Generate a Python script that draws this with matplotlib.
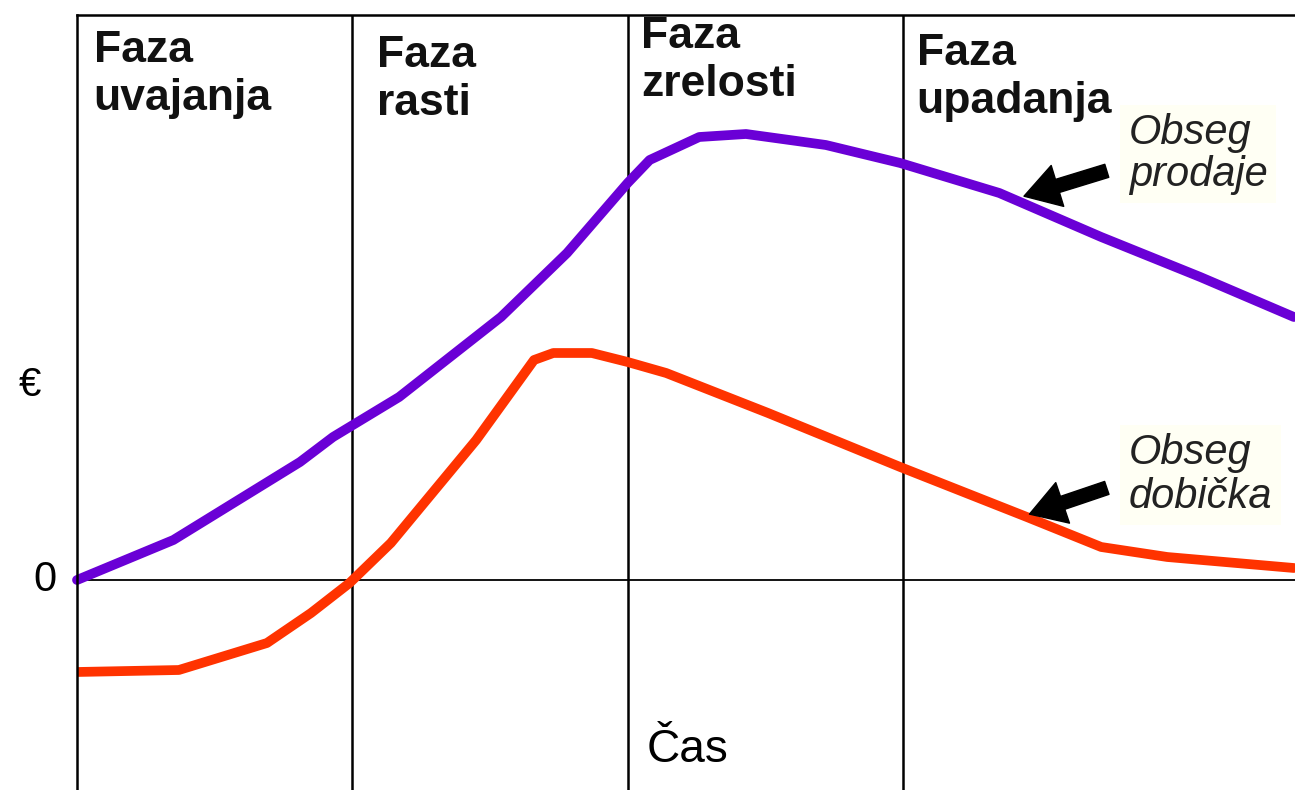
import matplotlib
matplotlib.use('Agg')
import matplotlib.pyplot as plt

# phase boundaries (time units) and labels
phase_bounds = [1, 2, 3]
phase_labels = ['Faza\nuvajanja', 'Faza\nrasti', 'Faza\nzrelosti', 'Faza\nupadanja']
phase_label_x = [0.06, 1.09, 2.05, 3.05]
phase_label_y = [5.50, 5.45, 5.64, 5.47]

# sales volume (purple)
sales_x = [0, 0.35, 0.81, 0.93, 1.17, 1.54, 1.78, 2.0, 2.08, 2.26, 2.43, 2.72,
           2.99, 3.35, 3.72, 4.08, 4.42]
sales_y = [0, 0.40, 1.18, 1.43, 1.83, 2.63, 3.27, 3.97, 4.20, 4.43, 4.46, 4.35,
           4.17, 3.87, 3.43, 3.03, 2.63]

# profit volume (red)
profit_x = [0, 0.37, 0.69, 0.85, 0.99, 1.14, 1.45, 1.66, 1.73, 1.87, 2.0, 2.14,
            2.51, 2.99, 3.45, 3.72, 3.96, 4.42]
profit_y = [-0.92, -0.90, -0.63, -0.33, -0.03, 0.37, 1.40, 2.20, 2.27, 2.27, 2.18,
            2.07, 1.67, 1.13, 0.63, 0.33, 0.23, 0.12]

fig = plt.figure(figsize=(12.95, 7.90), dpi=100)
ax = fig.add_axes([77 / 1295, 0, 1 - 77 / 1295, 1 - 15 / 790])
ax.set_xlim(0, 4.424)
ax.set_ylim(-2.1, 5.65)

for s in ['right', 'bottom']:
    ax.spines[s].set_visible(False)
for s in ['left', 'top']:
    ax.spines[s].set_linewidth(1.8)
ax.set_xticks([])
ax.set_yticks([])

for b in phase_bounds:
    ax.axvline(b, color='black', lw=1.8)
ax.axhline(0, color='black', lw=1.3)

ax.plot(sales_x, sales_y, color='#6a00d6', lw=7, solid_joinstyle='round',
        solid_capstyle='round', clip_on=False)
ax.plot(profit_x, profit_y, color='#ff3300', lw=7, solid_joinstyle='round',
        solid_capstyle='round')

for lab, x, y in zip(phase_labels, phase_label_x, phase_label_y):
    ax.text(x, y, lab, fontsize=32, fontweight='bold', family='Liberation Sans',
            va='top', ha='left', linespacing=1.22, color='#111111')

# annotations
ax.text(3.82, 4.67, 'Obseg\nprodaje', fontsize=30, style='italic',
        family='Liberation Sans', va='top', ha='left', linespacing=1.05,
        color='#222222',
        bbox=dict(facecolor='#fffff4', edgecolor='none', pad=6))
ax.text(3.82, 1.47, 'Obseg\ndobička', fontsize=30, style='italic',
        family='Liberation Sans', va='top', ha='left', linespacing=1.12,
        color='#222222',
        bbox=dict(facecolor='#fffff4', edgecolor='none', pad=6))

arrow = dict(arrowstyle='simple,head_length=0.9,head_width=1.1,tail_width=0.35',
             color='black', mutation_scale=28)
ax.annotate('', xy=(3.43, 3.83), xytext=(3.75, 4.10), arrowprops=arrow)
ax.annotate('', xy=(3.45, 0.65), xytext=(3.75, 0.93), arrowprops=arrow)

# axis labels
fig.text(30 / 1295, 1 - 385 / 790, '€', fontsize=29, family='Liberation Sans',
         ha='center', va='center')
fig.text(45 / 1295, 1 - 580 / 790, '0', fontsize=30, family='Liberation Sans',
         ha='center', va='center')
ax.text(2.07, -1.7, 'Čas', fontsize=33, family='Liberation Sans',
        ha='left', va='center')

fig.savefig('out.png', dpi=100)
